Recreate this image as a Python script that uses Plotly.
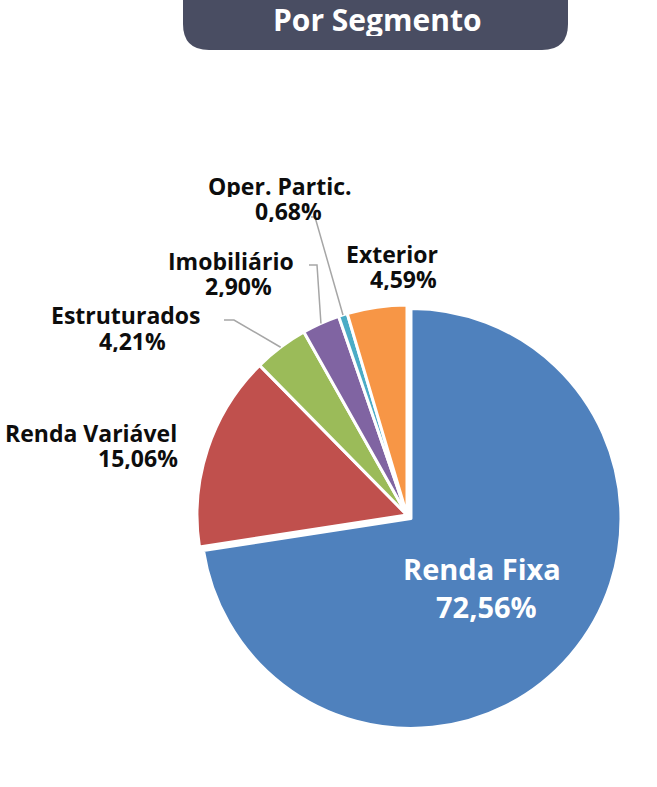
import math
import plotly.graph_objects as go

# ---- data ----
categories = ["Renda Fixa", "Renda Variável", "Estruturados", "Imobiliário", "Oper. Partic.", "Exterior"]
values = [72.56, 15.06, 4.21, 2.90, 0.68, 4.59]
value_labels = ["72,56%", "15,06%", "4,21%", "2,90%", "0,68%", "4,59%"]
title_text = "Por Segmento"

# ---- styles ----
W, H = 657, 787
colors = ["#4F81BD", "#C0504D", "#9BBB59", "#8064A2", "#4BACC6", "#F79646"]
pulls = [0.025, 0, 0, 0, 0, 0]
CX, CY, R = 407, 515, 210  # pie centre / radius in px
FONT = "Open Sans"

# label placement (px): anchor, (x1, y1) for name line, (x2, y2) for value line
label_pos = {
    "Renda Fixa": ("center", (482, 568), (486, 606)),
    "Renda Variável": ("right", (179, 432), (180, 457)),
    "Estruturados": ("center", (126, 315), (132, 340)),
    "Imobiliário": ("center", (231, 260), (238, 286)),
    "Oper. Partic.": ("center", (280, 185), (288, 210)),
    "Exterior": ("right", (440, 253), (439, 278)),
}
# leader elbows (px) for small slices
leader_elbows = {
    "Estruturados": [(224, 320), (234, 320)],
    "Imobiliário": [(309, 265), (317, 265)],
    "Oper. Partic.": [(311, 217), (315, 217)],
}


def px(x):
    return x / W


def py(y):
    return 1 - y / H


half = R * (1 + max(pulls))
fig = go.Figure(go.Pie(
    labels=categories,
    values=values,
    sort=False,
    direction="clockwise",
    rotation=0,
    pull=pulls,
    textinfo="none",
    hoverinfo="label+percent",
    marker=dict(colors=colors, line=dict(color="white", width=3)),
    domain=dict(x=[px(CX - half), px(CX + half)], y=[py(CY + half), py(CY - half)]),
    showlegend=False,
))

shapes = []
annotations = []

# slice mid angles
total = sum(values)
cum = 0
mid_angle = {}
for c, v in zip(categories, values):
    mid_angle[c] = (cum + v / 2) / total * 2 * math.pi
    cum += v

# leader lines
for c, elbows in leader_elbows.items():
    a = mid_angle[c]
    ex, ey = CX + R * math.sin(a), CY - R * math.cos(a)
    pts = elbows + [(ex, ey)]
    path = "M " + " L ".join(f"{px(x):.5f},{py(y):.5f}" for x, y in pts)
    shapes.append(dict(type="path", xref="paper", yref="paper", path=path,
                       line=dict(color="#A6A6A6", width=1.5)))

# labels (one annotation per line to control line spacing)
for c, vl in zip(categories, value_labels):
    anchor, p1, p2 = label_pos[c]
    if c == "Renda Fixa":
        fnt = dict(family=FONT, size=29, color="white", weight="bold")
        hgt = 34
    else:
        fnt = dict(family=FONT, size=23, color="#0D0D0D", weight="bold")
        hgt = 23
    for txt, (x, y) in ((c, p1), (vl, p2)):
        annotations.append(dict(x=px(x), y=py(y), xref="paper", yref="paper",
                                text=txt, showarrow=False, align=anchor,
                                xanchor=anchor, yanchor="middle", valign="middle",
                                height=hgt, font=fnt))

# title box with rounded bottom corners
x0, x1, yb, rr = 183, 568, 50, 26
path = (f"M {px(x0):.5f},{py(-10):.5f} L {px(x0):.5f},{py(yb - rr):.5f} "
        f"Q {px(x0):.5f},{py(yb):.5f} {px(x0 + rr):.5f},{py(yb):.5f} "
        f"L {px(x1 - rr):.5f},{py(yb):.5f} "
        f"Q {px(x1):.5f},{py(yb):.5f} {px(x1):.5f},{py(yb - rr):.5f} "
        f"L {px(x1):.5f},{py(-10):.5f} Z")
shapes.append(dict(type="path", xref="paper", yref="paper", path=path,
                   fillcolor="#494D62", line=dict(width=0), layer="below"))
annotations.append(dict(x=px(377), y=py(19), xref="paper", yref="paper", text=title_text,
                        showarrow=False, xanchor="center", yanchor="middle", valign="middle",
                        height=34, font=dict(family=FONT, size=30, color="white", weight="bold")))

fig.update_layout(
    width=W, height=H,
    margin=dict(l=0, r=0, t=0, b=0),
    paper_bgcolor="white", plot_bgcolor="white",
    shapes=shapes, annotations=annotations,
)
fig.write_html("out.html")
